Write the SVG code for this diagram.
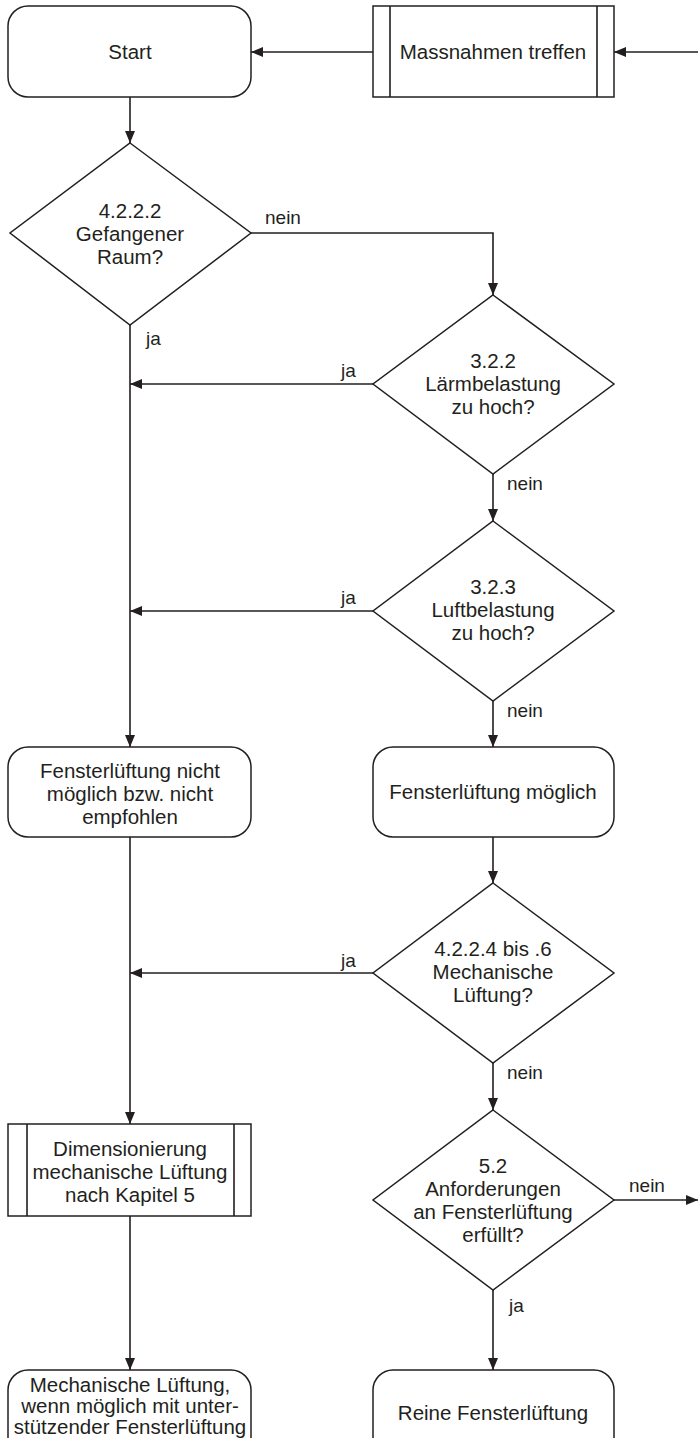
<svg xmlns="http://www.w3.org/2000/svg" width="698" height="1438" viewBox="0 0 698 1438">
<style>
.s{fill:#fff;stroke:#231f20;stroke-width:1.5}
.c{fill:none;stroke:#231f20;stroke-width:1.6}
.t{font-family:"Liberation Sans",Arial,sans-serif;font-size:20.5px;fill:#231f20;text-anchor:middle}
.l{font-family:"Liberation Sans",Arial,sans-serif;font-size:19px;fill:#231f20}
</style>
<defs>
<marker id="a" viewBox="0 0 12 10" refX="12" refY="5" markerWidth="12" markerHeight="10" markerUnits="userSpaceOnUse" orient="auto">
<path d="M0,0 L12,5 L0,10 Z" fill="#231f20"/>
</marker>
</defs>
<rect width="698" height="1438" fill="#fff"/>
<g id="connectors">
<path class="c" d="M698,52 H614" marker-end="url(#a)"/>
<path class="c" d="M373,52 H251" marker-end="url(#a)"/>
<path class="c" d="M130,97 V143" marker-end="url(#a)"/>
<path class="c" d="M251,233 H493 V295" marker-end="url(#a)"/>
<path class="c" d="M130,325 V747" marker-end="url(#a)"/>
<path class="c" d="M373,384 H130" marker-end="url(#a)"/>
<path class="c" d="M493,474 V521" marker-end="url(#a)"/>
<path class="c" d="M373,611 H130" marker-end="url(#a)"/>
<path class="c" d="M493,701 V747" marker-end="url(#a)"/>
<path class="c" d="M493,837 V883" marker-end="url(#a)"/>
<path class="c" d="M130,837 V1124" marker-end="url(#a)"/>
<path class="c" d="M373,973 H130" marker-end="url(#a)"/>
<path class="c" d="M493,1063 V1110" marker-end="url(#a)"/>
<path class="c" d="M614,1200 H698" marker-end="url(#a)"/>
<path class="c" d="M493,1290 V1370" marker-end="url(#a)"/>
<path class="c" d="M130,1216 V1370" marker-end="url(#a)"/>
<text class="l" x="265" y="224">nein</text>
<text class="l" x="146" y="345">ja</text>
<text class="l" x="341" y="377">ja</text>
<text class="l" x="507" y="490">nein</text>
<text class="l" x="341" y="604">ja</text>
<text class="l" x="507" y="717">nein</text>
<text class="l" x="341" y="967">ja</text>
<text class="l" x="507" y="1079">nein</text>
<text class="l" x="629" y="1192">nein</text>
<text class="l" x="509" y="1312">ja</text>
</g>
<g id="start">
<rect class="s" x="8" y="6" width="243" height="91" rx="20"/>
<text class="t" x="130" y="59">Start</text>
</g>
<g id="massnahmen">
<rect class="s" x="373" y="6" width="241" height="91"/>
<path class="c" d="M390,6 V97 M597,6 V97"/>
<text class="t" x="493" y="59">Massnahmen treffen</text>
</g>
<g id="d1">
<polygon class="s" points="130,143 251,233 130,325 10,233"/>
<text class="t" x="130" y="218">4.2.2.2</text>
<text class="t" x="130" y="241">Gefangener</text>
<text class="t" x="130" y="264">Raum?</text>
</g>
<g id="d2">
<polygon class="s" points="493,295 614,384 493,474 373,384"/>
<text class="t" x="493" y="368">3.2.2</text>
<text class="t" x="493" y="391">Lärmbelastung</text>
<text class="t" x="493" y="414">zu hoch?</text>
</g>
<g id="d3">
<polygon class="s" points="493,521 614,611 493,701 373,611"/>
<text class="t" x="493" y="594">3.2.3</text>
<text class="t" x="493" y="617">Luftbelastung</text>
<text class="t" x="493" y="640">zu hoch?</text>
</g>
<g id="nichtmoeglich">
<rect class="s" x="8" y="747" width="243" height="90" rx="20"/>
<text class="t" x="130" y="778">Fensterlüftung nicht</text>
<text class="t" x="130" y="801">möglich bzw. nicht</text>
<text class="t" x="130" y="824">empfohlen</text>
</g>
<g id="moeglich">
<rect class="s" x="373" y="747" width="241" height="90" rx="20"/>
<text class="t" x="493" y="799">Fensterlüftung möglich</text>
</g>
<g id="d4">
<polygon class="s" points="493,883 614,973 493,1063 373,973"/>
<text class="t" x="493" y="956">4.2.2.4 bis .6</text>
<text class="t" x="493" y="979">Mechanische</text>
<text class="t" x="493" y="1002">Lüftung?</text>
</g>
<g id="dimensionierung">
<rect class="s" x="8" y="1124" width="243" height="92"/>
<path class="c" d="M27,1124 V1216 M234,1124 V1216"/>
<text class="t" x="130" y="1156">Dimensionierung</text>
<text class="t" x="130" y="1179">mechanische Lüftung</text>
<text class="t" x="130" y="1202">nach Kapitel 5</text>
</g>
<g id="d5">
<polygon class="s" points="493,1110 614,1200 493,1290 373,1200"/>
<text class="t" x="493" y="1173">5.2</text>
<text class="t" x="493" y="1196">Anforderungen</text>
<text class="t" x="493" y="1219">an Fensterlüftung</text>
<text class="t" x="493" y="1242">erfüllt?</text>
</g>
<g id="mechanisch">
<rect class="s" x="8" y="1370" width="243" height="92" rx="20"/>
<text class="t" x="130" y="1392">Mechanische Lüftung,</text>
<text class="t" x="130" y="1413">wenn möglich mit unter-</text>
<text class="t" x="130" y="1434">stützender Fensterlüftung</text>
</g>
<g id="rein">
<rect class="s" x="373" y="1370" width="241" height="92" rx="20"/>
<text class="t" x="493" y="1420">Reine Fensterlüftung</text>
</g>
</svg>
